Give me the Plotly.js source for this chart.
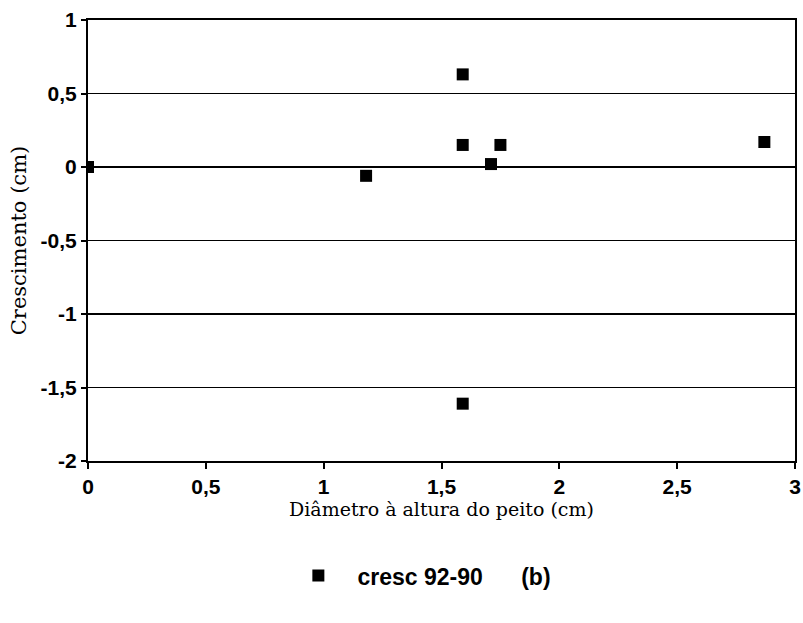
<!DOCTYPE html>
<html>
<head>
<meta charset="utf-8">
<script src="https://cdn.plot.ly/plotly-3.0.1.min.js"></script>
<style>html,body{margin:0;padding:0;background:#fff;}#chart{width:803px;height:623px;}</style>
</head>
<body>
<div id="chart"></div>
<script>
var seriesName = "\u00a0\u00a0\u00a0cresc 92-90\u00a0\u00a0\u00a0\u00a0\u00a0\u00a0(b)";
var diametro = [0, 1.18, 1.59, 1.59, 1.59, 1.75, 1.71, 2.87];
var crescimento = [0, -0.06, 0.63, 0.15, -1.61, 0.15, 0.02, 0.17];
var yTickVals = [-2, -1.5, -1, -0.5, 0, 0.5, 1];
var yTickText = ["-2", "-1,5", "-1", "-0,5", "0", "0,5", "1"];
var xTickVals = [0, 0.5, 1, 1.5, 2, 2.5, 3];
var xTickText = ["0", "0,5", "1", "1,5", "2", "2,5", "3"];

var trace = {
  x: diametro, y: crescimento, type: "scatter", mode: "markers", name: seriesName,
  marker: {symbol: "square", size: 12, color: "#000"}
};
var tickFont = {family: "Liberation Sans, Arial, sans-serif", size: 21, color: "#000", weight: "bold"};
var layout = {
  width: 803, height: 623,
  margin: {l: 88, r: 8, t: 20, b: 162},
  paper_bgcolor: "#fff", plot_bgcolor: "#fff",
  showlegend: true,
  legend: {orientation: "h", x: 0.48, xanchor: "center", y: -0.26, yanchor: "middle",
    itemwidth: 30,
    font: {family: "Liberation Sans, Arial, sans-serif", size: 23, color: "#000", weight: "bold"}},
  xaxis: {
    range: [0, 3], tickvals: xTickVals, ticktext: xTickText,
    showgrid: false, zeroline: false, showline: true, linecolor: "#000", linewidth: 2, mirror: true,
    ticks: "outside", ticklen: 6, tickcolor: "#000", tickwidth: 2,
    tickfont: tickFont,
    title: {text: "Diâmetro à altura do peito (cm)", standoff: 4,
      font: {family: "DejaVu Serif, Liberation Serif, serif", size: 19, color: "#000"}}
  },
  yaxis: {
    range: [-2, 1], tickvals: yTickVals, ticktext: yTickText,
    showgrid: true, gridcolor: "#000", gridwidth: 1.5,
    zeroline: false, showline: true, linecolor: "#000", linewidth: 2, mirror: true,
    ticks: "outside", ticklen: 5, tickcolor: "#000", tickwidth: 2,
    tickfont: tickFont,
    title: {text: "Crescimento (cm)", standoff: 8,
      font: {family: "DejaVu Serif, Liberation Serif, serif", size: 21, color: "#000"}}
  }
};
Plotly.newPlot("chart", [trace], layout, {displayModeBar: false, staticPlot: true});
</script>
</body>
</html>
